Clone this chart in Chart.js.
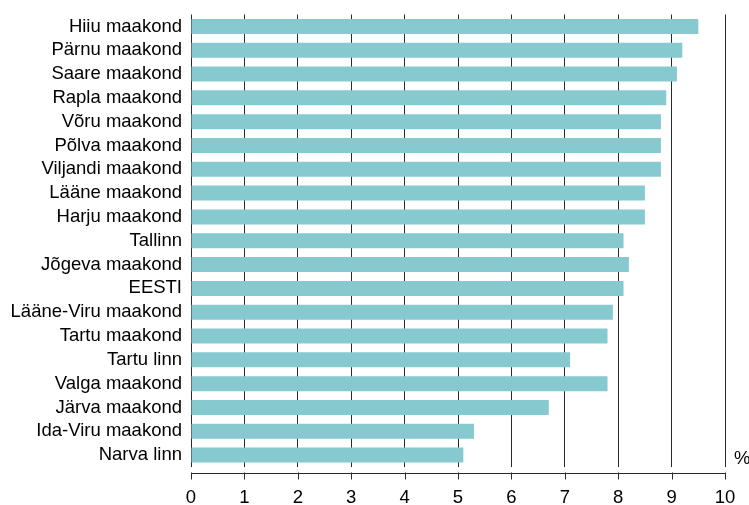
<!DOCTYPE html>
<html>
<head>
<meta charset="utf-8">
<script src="https://cdn.jsdelivr.net/npm/chart.js@4.4.1/dist/chart.umd.min.js"></script>
<style>
  html, body { margin: 0; padding: 0; background: #ffffff; }
  #wrap { position: relative; width: 749px; height: 505px; }
</style>
</head>
<body>
<div id="wrap"><canvas id="c" width="749" height="505"></canvas></div>
<script>
const categories = [
  "Hiiu maakond", "Pärnu maakond", "Saare maakond", "Rapla maakond",
  "Võru maakond", "Põlva maakond", "Viljandi maakond", "Lääne maakond",
  "Harju maakond", "Tallinn", "Jõgeva maakond", "EESTI",
  "Lääne-Viru maakond", "Tartu maakond", "Tartu linn", "Valga maakond",
  "Järva maakond", "Ida-Viru maakond", "Narva linn"
];
const values = [9.5, 9.2, 9.1, 8.9, 8.8, 8.8, 8.8, 8.5, 8.5, 8.1, 8.2, 8.1, 7.9, 7.8, 7.1, 7.8, 6.7, 5.3, 5.1];
const xTicks = [0, 1, 2, 3, 4, 5, 6, 7, 8, 9, 10];
const unitLabel = "%";

const FONT = "'Liberation Sans', Arial, sans-serif";

const axisPlugin = {
  id: 'axisPlugin',
  afterDraw(chart) {
    const ctx = chart.ctx;
    const xs = chart.scales.x;
    const area = chart.chartArea;
    const yLine = Math.round(area.bottom) + 6.5;
    ctx.save();
    ctx.strokeStyle = '#2a2a2a';
    ctx.lineWidth = 1;
    ctx.beginPath();
    ctx.moveTo(xs.getPixelForValue(xTicks[0]), yLine);
    ctx.lineTo(xs.getPixelForValue(xTicks[xTicks.length - 1]), yLine);
    xTicks.forEach(v => {
      const px = Math.round(xs.getPixelForValue(v)) + 0.5;
      ctx.moveTo(px, yLine - 1);
      ctx.lineTo(px, yLine + 6);
    });
    ctx.stroke();
    ctx.fillStyle = '#000000';
    ctx.font = "18.5px " + FONT;
    ctx.textAlign = 'left';
    ctx.textBaseline = 'alphabetic';
    ctx.fillText(unitLabel, xs.getPixelForValue(10) + 9, area.bottom - 3);
    ctx.restore();
  }
};

function zeroPad(scale) {
  scale.paddingLeft = 0; scale.paddingRight = 0;
  scale.paddingTop = 0; scale.paddingBottom = 0;
}

new Chart(document.getElementById('c'), {
  type: 'bar',
  data: {
    labels: categories,
    datasets: [{
      data: values,
      backgroundColor: '#86c9cf',
      borderWidth: 0,
      barPercentage: 0.63,
      categoryPercentage: 1.0
    }]
  },
  options: {
    indexAxis: 'y',
    responsive: false,
    animation: false,
    devicePixelRatio: 1,
    layout: { padding: { top: 14.5, right: 24, bottom: 0, left: 0 } },
    plugins: {
      legend: { display: false },
      tooltip: { enabled: false }
    },
    scales: {
      x: {
        type: 'linear',
        min: 0,
        max: 10,
        afterBuildTicks(scale) { scale.ticks = xTicks.map(v => ({ value: v })); },
        afterFit(scale) { scale.height = 38; zeroPad(scale); },
        grid: {
          display: true,
          drawOnChartArea: true,
          drawTicks: false,
          color: '#2a2a2a',
          lineWidth: 1
        },
        border: { display: false },
        ticks: {
          color: '#000000',
          font: { family: FONT, size: 18.5 },
          padding: 20,
          maxRotation: 0
        }
      },
      y: {
        afterFit(scale) { scale.width = 191; zeroPad(scale); },
        grid: { display: false, drawTicks: false },
        border: { display: false },
        ticks: {
          color: '#000000',
          font: { family: FONT, size: 18.5 },
          padding: 9,
          autoSkip: false
        }
      }
    }
  },
  plugins: [axisPlugin]
});
</script>
</body>
</html>
